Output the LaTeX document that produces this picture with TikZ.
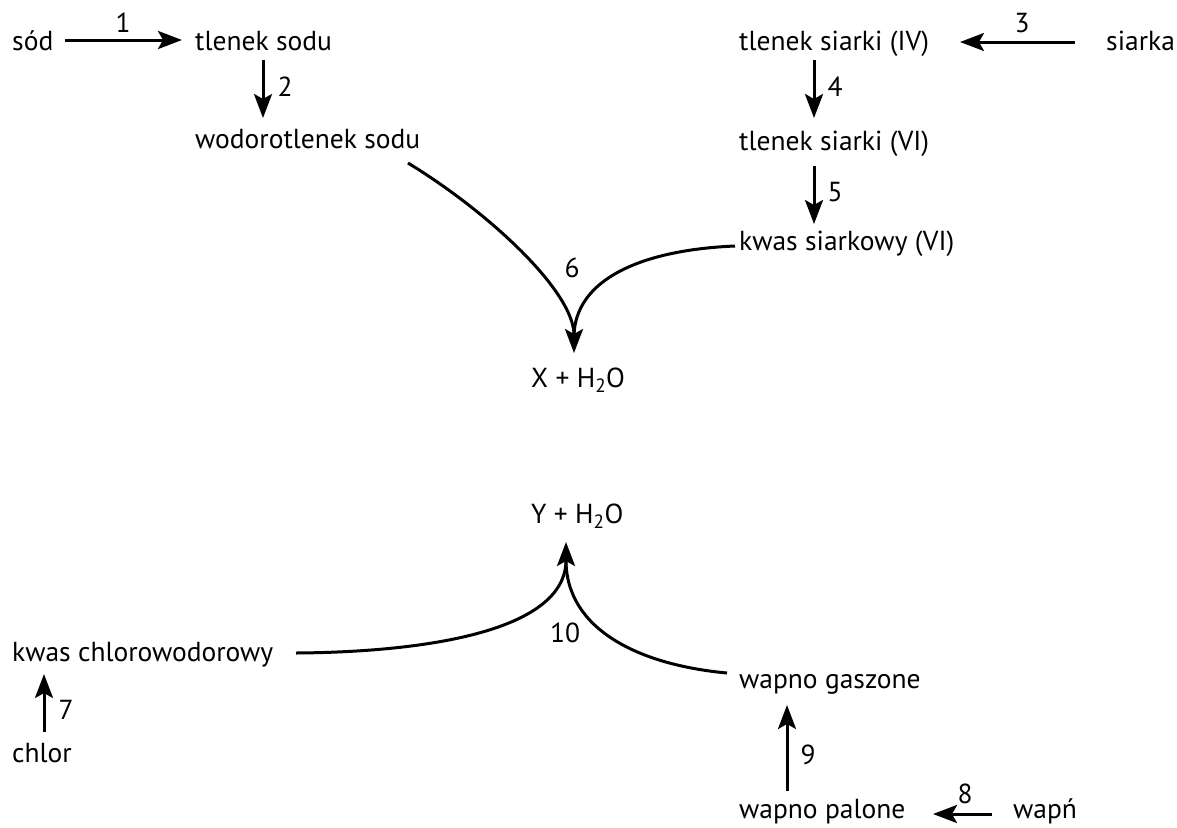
\documentclass[tikz,border=0pt]{standalone}
\usepackage{fontspec}
\setmainfont{PT Sans}
\usetikzlibrary{arrows.meta,calc}
\begin{document}
\begin{tikzpicture}[x=1pt,y=-1pt,
  txt/.style={anchor=base west,inner sep=0pt,font=\fontsize{27.5}{32}\selectfont},
  num/.style={anchor=center,inner sep=0pt,font=\fontsize{27.5}{32}\selectfont},
  arr/.style={line width=3pt,-{Stealth[length=24pt,width=18pt,inset=5pt]}},
  ln/.style={line width=3pt}]
\useasboundingbox (0,0) rectangle (1177,827);
% substances
\node[txt] (sod) at (12,50) {sód};
\node[txt] (tl) at (195,50) {tlenek sodu};
\node[txt] (wod) at (195,148) {wodorotlenek sodu};
\node[txt] (ts4) at (739,50) {tlenek siarki (IV)};
\node[txt] (siarka) at (1106,50) {siarka};
\node[txt] (ts6) at (739,150) {tlenek siarki (VI)};
\node[txt] (kw) at (739,250) {kwas siarkowy (VI)};
\node[txt] (X) at (531,387) {X + H\textsubscript{2}O};
\node[txt] (Y) at (531,523) {Y + H\textsubscript{2}O};
\node[txt] (kcl) at (12,661) {kwas chlorowodorowy};
\node[txt] (chlor) at (12,762) {chlor};
\node[txt] (wg) at (739,688) {wapno gaszone};
\node[txt] (wp) at (739,818) {wapno palone};
\node[txt] (wapn) at (1013,818) {wapń};
% reaction numbers
\node[num] (n1) at (123,23) {1};
\node[num] (n2) at (285,87) {2};
\node[num] (n3) at (1022,23) {3};
\node[num] (n4) at (835,87) {4};
\node[num] (n5) at (835,192) {5};
\node[num] (n6) at (572,268) {6};
\node[num] (n7) at (66,710) {7};
\node[num] (n8) at (965,794) {8};
\node[num] (n9) at (808,755) {9};
\node[num] (n10) at (565,633) {10};
% straight arrows
\draw[arr] ($(sod.base west)+(53,-10)$) -- ($(tl.base west)+(-13,-10)$);
\draw[arr] ($(tl.base west)+(68,10)$) -- ($(wod.base west)+(68,-30)$);
\draw[arr] ($(siarka.base west)+(-31,-8)$) -- ($(ts4.base west)+(221,-8)$);
\draw[arr] ($(ts4.base west)+(75,10)$) -- ($(ts6.base west)+(75,-32)$);
\draw[arr] ($(ts6.base west)+(75,16)$) -- ($(kw.base west)+(75,-26)$);
\draw[arr] ($(chlor.base west)+(32,-30)$) -- ($(kcl.base west)+(32,13)$);
\draw[arr] ($(wapn.base west)+(-21,-4)$) -- ($(wp.base west)+(194,-4)$);
\draw[arr] ($(wp.base west)+(48,-27)$) -- ($(wg.base west)+(48,17)$);
% reaction 6
\coordinate (m6) at ($(X.base west)+(43,-34)$);
\draw[arr] ($(wod.base west)+(213,15)$) .. controls (490,213) and (574,292) .. (m6);
\draw[ln] ($(kw.base west)+(-4,-4)$) .. controls (640,250) and (575,280) .. (574,336);
% reaction 10
\coordinate (m10) at ($(Y.base west)+(35,19)$);
\draw[arr] ($(kcl.base west)+(284,-8)$) .. controls (430,652) and (566,630) .. (m10);
\draw[ln] ($(wg.base west)+(-12,-15)$) .. controls (640,665) and (566,630) .. (566,560);
\end{tikzpicture}
\end{document}
